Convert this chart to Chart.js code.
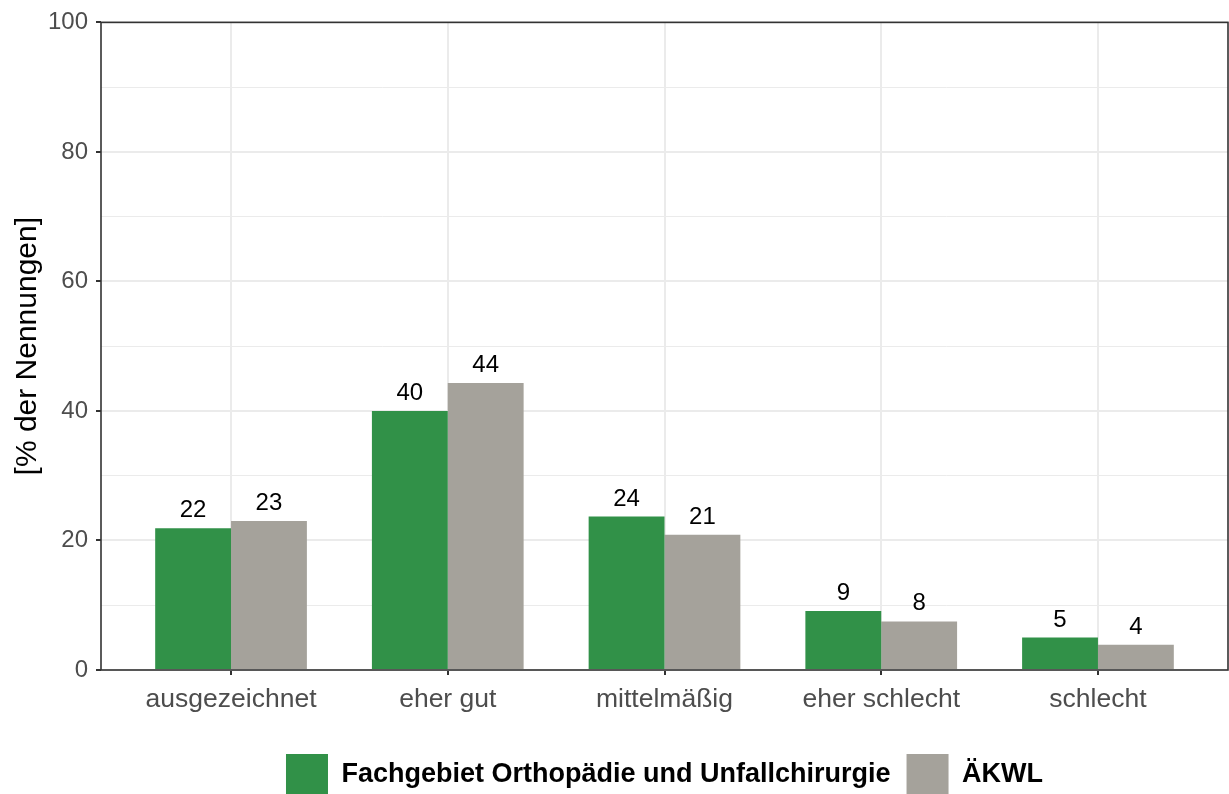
<!DOCTYPE html>
<html><head><meta charset="utf-8">
<script src="https://cdn.jsdelivr.net/npm/chart.js@4.4.1/dist/chart.umd.min.js"></script>
<style>html,body{margin:0;padding:0;background:#fff;}#wrap{width:1229px;height:794px;position:relative}</style>
</head><body><div id="wrap"><canvas id="c" width="1229" height="794"></canvas></div>
<script>
const categories = ["ausgezeichnet", "eher gut", "mittelmäßig", "eher schlecht", "schlecht"];
const seriesNames = ["Fachgebiet Orthopädie und Unfallchirurgie", "ÄKWL"];
const orthoValues = [21.9, 40.0, 23.7, 9.1, 5.0];
const aekwlValues = [23.0, 44.3, 20.9, 7.5, 3.9];
const yMajorTicks = [0, 20, 40, 60, 80, 100];
const yMinorTicks = [10, 30, 50, 70, 90];
const seriesColors = ["#319148", "#A5A29B"];

const baseFont = "'Liberation Sans', Arial, sans-serif";

const frame = {
  id: 'frame',
  afterDatasetsDraw(chart) {
    const {ctx, chartArea: a} = chart;
    ctx.save();
    ctx.strokeStyle = '#333333';
    ctx.lineWidth = 1.6;
    ctx.strokeRect(a.left, a.top, a.right - a.left, a.bottom - a.top);
    ctx.restore();
  }
};
const valueLabels = {
  id: 'valueLabels',
  afterDatasetsDraw(chart) {
    const ctx = chart.ctx;
    ctx.save();
    ctx.font = '24px ' + baseFont;
    ctx.fillStyle = '#000';
    ctx.textAlign = 'center';
    ctx.textBaseline = 'alphabetic';
    chart.data.datasets.forEach((ds, di) => {
      chart.getDatasetMeta(di).data.forEach((el, i) => {
        ctx.fillText(String(Math.round(ds.data[i].y)), el.x, el.y - 11);
      });
    });
    ctx.restore();
  }
};

const toPoints = arr => arr.map((v, i) => ({x: i + 1, y: v}));

new Chart(document.getElementById('c'), {
  type: 'bar',
  data: {
    datasets: [
      {label: seriesNames[0], data: toPoints(orthoValues), backgroundColor: seriesColors[0], borderWidth: 0},
      {label: seriesNames[1], data: toPoints(aekwlValues), backgroundColor: seriesColors[1], borderWidth: 0}
    ]
  },
  options: {
    responsive: false,
    animation: false,
    layout: {padding: {top: 20, right: 1, bottom: -12, left: 0}},
    datasets: {bar: {categoryPercentage: 0.7, barPercentage: 1.0}},
    scales: {
      x: {
        type: 'linear',
        min: 0.4, max: 5.6,
        offset: false,
        afterBuildTicks: s => { s.ticks = categories.map((c, i) => ({value: i + 1})); },
        afterFit: s => { s.height = 68; },
        border: {display: false},
        grid: {offset: false, color: '#EBEBEB', lineWidth: 2, tickColor: '#333333', tickLength: 5, tickWidth: 2},
        ticks: {
          autoSkip: false, maxRotation: 0, padding: 9, color: '#4D4D4D',
          font: {family: baseFont, size: 26.5},
          callback: v => categories[v - 1]
        }
      },
      y: {
        min: 0, max: 100,
        afterBuildTicks: s => { s.ticks = [...yMajorTicks, ...yMinorTicks].sort((a, b) => a - b).map(v => ({value: v})); },
        afterFit: s => { s.width = 101; },
        border: {display: false},
        grid: {
          color: '#EBEBEB',
          lineWidth: c => (c.tick && yMajorTicks.includes(c.tick.value)) ? 2 : 1,
          tickColor: c => (c.tick && yMajorTicks.includes(c.tick.value)) ? '#333333' : 'rgba(0,0,0,0)',
          tickLength: 5, tickWidth: 2
        },
        ticks: {
          padding: 8, color: '#4D4D4D', font: {family: baseFont, size: 24},
          callback: v => yMajorTicks.includes(v) ? String(v) : ''
        },
        title: {display: true, text: '[% der Nennungen]', color: '#000', font: {family: baseFont, size: 30}, padding: {top: 10, bottom: 0}}
      }
    },
    plugins: {
      legend: {
        position: 'bottom',
        fullSize: false,
        labels: {
          boxWidth: 42, boxHeight: 42, padding: 16, color: '#000',
          font: {family: baseFont, size: 27, weight: 'bold'}
        }
      },
      tooltip: {enabled: false}
    }
  },
  plugins: [frame, valueLabels]
});
</script></body></html>
